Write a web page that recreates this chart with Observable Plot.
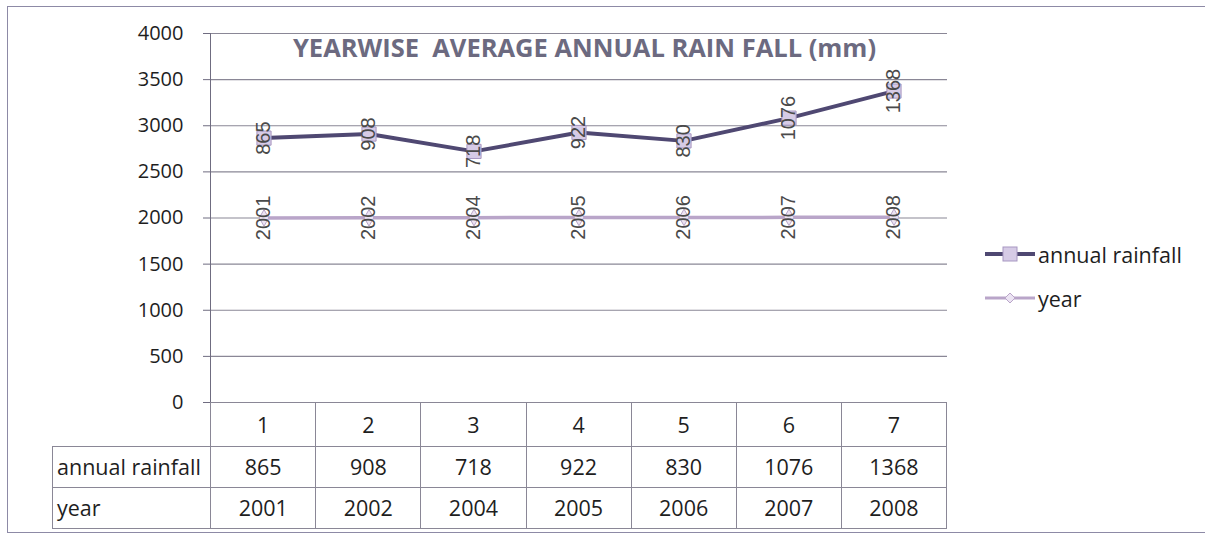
<!DOCTYPE html>
<html>
<head>
<meta charset="utf-8">
<script src="https://cdn.jsdelivr.net/npm/d3@7"></script>
<script src="https://cdn.jsdelivr.net/npm/@observablehq/plot@0.6"></script>
<style>
  html, body { margin: 0; padding: 0; background: #fff; }
  #wrap { position: relative; width: 1205px; height: 539px; overflow: hidden; font-family: "Open Sans", Lato, sans-serif; }
  #frame { position: absolute; left: 7px; top: 6px; width: 1210px; height: 527px; border: 1px solid #8d8aa6; box-sizing: border-box; }
  #chart { position: absolute; left: 0; top: 0; }
  #title { position: absolute; top: 30px; left: 216px; width: 737px; text-align: center; font-weight: bold; font-size: 25.5px; line-height: 34px; color: #6c6a80; white-space: pre; }
  #tbl { position: absolute; top: 402px; left: 52px; border-collapse: collapse; table-layout: fixed; font-size: 21.5px; color: #1e1e1e; }
  #tbl td { border: 1px solid #8a8796; text-align: center; padding: 0; line-height: 26px; overflow: hidden; white-space: nowrap; }
  #tbl td.lab { text-align: left; padding-left: 4px; }
  #tbl td.blank { border-left: none; border-top: none; border-bottom: 1px solid #8a8796; }
  #legend { position: absolute; left: 985px; top: 232px; font-size: 21.5px; color: #1e1e1e; }
  .lg { display: flex; align-items: center; height: 44px; }
  .lg svg { margin-right: 3px; }
</style>
</head>
<body>
<div id="wrap">
  <div id="frame"></div>
  <div id="chart"></div>
  <div id="title"></div>
  <table id="tbl"></table>
  <div id="legend"></div>
</div>
<script>
const titleText = "YEARWISE  AVERAGE ANNUAL RAIN FALL (mm)";
const categories = [1, 2, 3, 4, 5, 6, 7];
const rainfall = [865, 908, 718, 922, 830, 1076, 1368];
const years = [2001, 2002, 2004, 2005, 2006, 2007, 2008];
const yTicks = [0, 500, 1000, 1500, 2000, 2500, 3000, 3500, 4000];
const seriesNames = ["annual rainfall", "year"];

const rainColor = "#4f4872";
const yearColor = "#b9a5c9";

// stacked line: year at bottom, annual rainfall stacked on top
const data = categories.map((c, i) => ({cat: c, year: years[i], rain: rainfall[i], top: years[i] + rainfall[i]}));

const chart = Plot.plot({
  width: 1205,
  height: 539,
  marginLeft: 210,
  marginRight: 258,
  marginTop: 33,
  marginBottom: 137,
  style: {background: "transparent", fontFamily: "'Open Sans', Lato, sans-serif"},
  x: {type: "band", domain: categories, padding: 0, axis: null},
  y: {domain: [0, 4000]},
  marks: [
    Plot.ruleY(yTicks, {stroke: "#8a8796", strokeWidth: 1.2}),
    Plot.axisY({ticks: yTicks, tickSize: 7, tickPadding: 20, fontSize: 20, tickFormat: d => String(d), stroke: "#6f6c80", color: "#1e1e1e"}),
    Plot.frame({anchor: "left", stroke: "#6f6c80"}),
    Plot.line(data, {x: "cat", y: "year", stroke: yearColor, strokeWidth: 3.5}),
    Plot.line(data, {x: "cat", y: "top", stroke: rainColor, strokeWidth: 4}),
    Plot.dot(data, {x: "cat", y: "year", symbol: "diamond", r: 5, fill: "#ece4f3", stroke: yearColor, strokeWidth: 1}),
    Plot.dot(data, {x: "cat", y: "top", symbol: "square", r: 8, fill: "#d6cbe6", stroke: "#a797c2", strokeWidth: 1}),
    Plot.text(data, {x: "cat", y: "year", text: d => String(d.year), rotate: -90, fontSize: 20, fontFamily: "'Liberation Sans', Arial, sans-serif", fill: "#4a4a4a"}),
    Plot.text(data, {x: "cat", y: "top", text: d => String(d.rain), rotate: -90, fontSize: 20, fontFamily: "'Liberation Sans', Arial, sans-serif", fill: "#4a4a4a"})
  ]
});
document.getElementById("chart").appendChild(chart);
document.getElementById("title").textContent = titleText;

// data table aligned with the x scale
const xs = chart.scale("x");
const bw = xs.bandwidth;
const tableLeft = 52;
const tbl = document.getElementById("tbl");
tbl.style.width = (xs.range[1] - tableLeft) + "px";
const cg = document.createElement("colgroup");
const c0 = document.createElement("col");
c0.style.width = (xs.range[0] - tableLeft) + "px";
cg.appendChild(c0);
categories.forEach(() => {
  const c = document.createElement("col");
  c.style.width = bw + "px";
  cg.appendChild(c);
});
tbl.appendChild(cg);
const rowH = [44, 41, 41];
const rows = [
  ["", categories],
  [seriesNames[0], rainfall],
  [seriesNames[1], years]
];
rows.forEach(([label, vals], r) => {
  const tr = document.createElement("tr");
  tr.style.height = rowH[r] + "px";
  const th = document.createElement("td");
  th.textContent = label;
  th.className = r === 0 ? "blank" : "lab";
  tr.appendChild(th);
  vals.forEach(v => {
    const td = document.createElement("td");
    td.textContent = v;
    tr.appendChild(td);
  });
  tbl.appendChild(tr);
});

// legend
const legend = document.getElementById("legend");
[[seriesNames[0], rainColor, "square"], [seriesNames[1], yearColor, "diamond"]].forEach(([name, col, sym]) => {
  const d = document.createElement("div");
  d.className = "lg";
  const marker = sym === "square"
    ? `<rect x="18" y="5" width="14" height="14" fill="#d6cbe6" stroke="#a797c2"/>`
    : `<path d="M25 7 L30 12 L25 17 L20 12 Z" fill="#ece4f3" stroke="${col}"/>`;
  d.innerHTML = `<svg width="50" height="24"><line x1="0" x2="50" y1="12" y2="12" stroke="${col}" stroke-width="${sym === "square" ? 4 : 3}"/>${marker}</svg><span>${name}</span>`;
  legend.appendChild(d);
});
</script>
</body>
</html>
